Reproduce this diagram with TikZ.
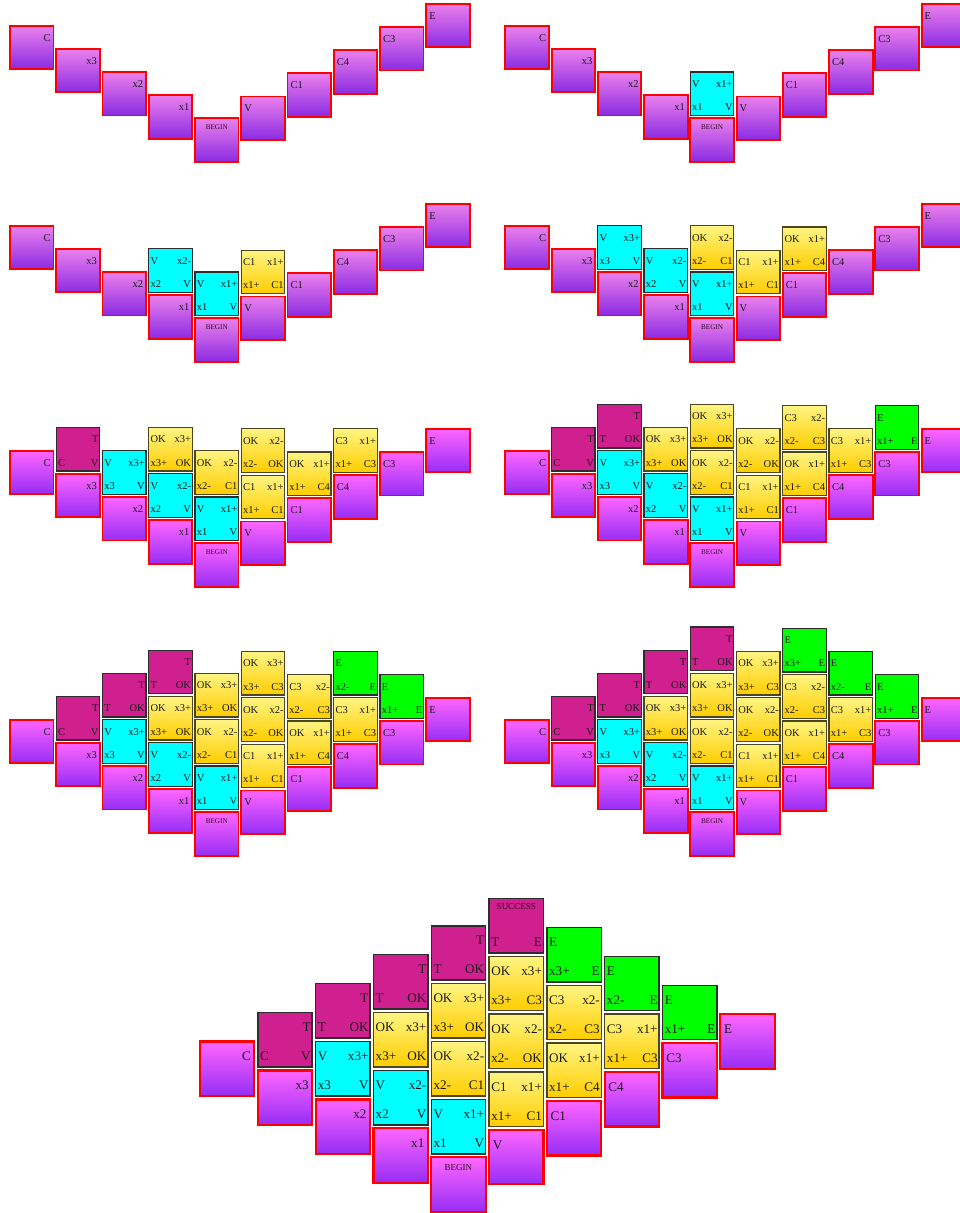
\documentclass[tikz,border=0pt]{standalone}
\usepackage{fontspec}
\setmainfont{Liberation Serif}
\definecolor{basetopA}{RGB}{236,128,236}
\definecolor{basebotA}{RGB}{138,43,226}
\definecolor{basetopB}{RGB}{255,102,255}
\definecolor{basebotB}{RGB}{150,45,245}
\colorlet{basetop}{basetopA}
\colorlet{basebot}{basebotA}
\definecolor{yeltop}{RGB}{255,244,130}
\definecolor{yelbot}{RGB}{255,205,0}
\definecolor{magT}{RGB}{208,32,144}
\definecolor{grnT}{RGB}{0,255,0}
\definecolor{cyT}{RGB}{0,255,255}
\definecolor{edgeT}{RGB}{45,45,45}
\definecolor{edgeY}{RGB}{75,70,30}
\newcommand\lwb{1.9pt}
\newcommand\lwt{1.25pt}
\tikzset{
 sq/.style={minimum size=43.5pt, inner sep=0pt, outer sep=0pt, anchor=north west},
 basebox/.style={sq, draw=red, line width=\lwb, top color=basetop, bottom color=basebot},
 cy/.style={sq, draw=edgeT, line width=\lwt, fill=cyT},
 yel/.style={sq, draw=edgeY, line width=\lwt, top color=yeltop, bottom color=yelbot},
 mag/.style={sq, draw=edgeT, line width=\lwt, fill=magT},
 grn/.style={sq, draw=edgeT, line width=\lwt, fill=grnT},
 lab/.style={inner sep=0pt, outer sep=0pt, font=\fontsize{10.5}{12}\selectfont, text=black!90},
 smalllab/.style={inner sep=0pt, outer sep=0pt, font=\fontsize{7.2}{8}\selectfont, text=black!75!magT},
}
\newcommand\mylab[5]{%
  \if\relax\detokenize{#5}\relax\else
  \node[lab,anchor=#2] (#1) at (#3,#4) {#5};\fi}
\newcommand\mytile[7]{%
  \pgfmathsetmacro\tL{10+46.25*#1}%
  \pgfmathsetmacro\tT{118.3-23.15*abs(#1-4)-46.3*#2+(#1>4)*1.3}%
  \node[#3] (\pid t#1#2) at (\tL,-\tT) {};%
  \mylab{\pid t#1#2a}{base west}{\tL+1.8}{-\tT-15.3}{#4}%
  \mylab{\pid t#1#2b}{base east}{\tL+42.3}{-\tT-15.3}{#5}%
  \mylab{\pid t#1#2c}{base west}{\tL+1.8}{-\tT-38.5}{#6}%
  \mylab{\pid t#1#2d}{base east}{\tL+42.3}{-\tT-38.5}{#7}%
}
\newcommand\mybase[2]{%
  \pgfmathsetmacro\tL{10+46.25*#1}%
  \pgfmathsetmacro\tT{118.3-23.15*abs(#1-4)+(#1>4)*1.3}%
  \node[basebox] (\pid b#1) at (\tL,-\tT) {};%
  \ifnum#1<4 \mylab{\pid b#1l}{base east}{\tL+40.7}{-\tT-15.3}{#2}\else
  \mylab{\pid b#1l}{base west}{\tL+3}{-\tT-15.3}{#2}\fi}
\newcommand\mybegin{%
  \node[basebox] (\pid b4) at (195,-118.3) {};%
  \node[smalllab,anchor=base] (\pid b4l) at (216.75,-129) {BEGIN};}
\newcommand\allbase{\mybase{0}{C}\mybase{1}{x3}\mybase{2}{x2}\mybase{3}{x1}\mybegin
  \mybase{5}{V}\mybase{6}{C1}\mybase{7}{C4}\mybase{8}{C3}\mybase{9}{E}}
\newcommand\stgA{\mytile{4}{1}{cy}{V}{x1+}{x1}{V}}
\newcommand\stgB{\stgA\mytile{3}{1}{cy}{V}{x2-}{x2}{V}\mytile{5}{1}{yel}{C1}{x1+}{x1+}{C1}}
\newcommand\stgC{\stgB\mytile{2}{1}{cy}{V}{x3+}{x3}{V}\mytile{4}{2}{yel}{OK}{x2-}{x2-}{C1}\mytile{6}{1}{yel}{OK}{x1+}{x1+}{C4}}
\newcommand\stgD{\stgC\mytile{1}{1}{mag}{}{T}{C}{V}\mytile{3}{2}{yel}{OK}{x3+}{x3+}{OK}\mytile{5}{2}{yel}{OK}{x2-}{x2-}{OK}\mytile{7}{1}{yel}{C3}{x1+}{x1+}{C3}}
\newcommand\stgE{\stgD\mytile{2}{2}{mag}{}{T}{T}{OK}\mytile{4}{3}{yel}{OK}{x3+}{x3+}{OK}\mytile{6}{2}{yel}{C3}{x2-}{x2-}{C3}\mytile{8}{1}{grn}{E}{}{x1+}{E}}
\newcommand\stgF{\stgE\mytile{3}{3}{mag}{}{T}{T}{OK}\mytile{5}{3}{yel}{OK}{x3+}{x3+}{C3}\mytile{7}{2}{grn}{E}{}{x2-}{E}}
\newcommand\stgG{\stgF\mytile{4}{4}{mag}{}{T}{T}{OK}\mytile{6}{3}{grn}{E}{}{x3+}{E}}
\begin{document}
\begin{tikzpicture}[x=1pt,y=1pt]
\useasboundingbox (0,0) rectangle (960,-1213);
\fill[white] (0,0) rectangle (960,-1213);
\begin{scope}\def\pid{a}\allbase\end{scope}
\begin{scope}[shift={(495.3,0)}]\def\pid{b}\allbase\stgA\end{scope}
\begin{scope}[shift={(0,-200)}]\def\pid{c}\allbase\stgB\end{scope}
\begin{scope}[shift={(495.3,-200)}]\def\pid{d}\allbase\stgC\end{scope}
\begin{scope}[shift={(0,-425)}]\def\pid{e}\colorlet{basetop}{basetopB}\colorlet{basebot}{basebotB}\allbase\stgD\end{scope}
\begin{scope}[shift={(495.3,-425)}]\def\pid{f}\colorlet{basetop}{basetopB}\colorlet{basebot}{basebotB}\allbase\stgE\end{scope}
\begin{scope}[shift={(0,-694)}]\def\pid{g}\colorlet{basetop}{basetopB}\colorlet{basebot}{basebotB}\allbase\stgF\end{scope}
\begin{scope}[shift={(495.3,-694)}]\def\pid{h}\colorlet{basetop}{basetopB}\colorlet{basebot}{basebotB}\allbase\stgG\end{scope}
\begin{scope}[shift={(187.5,-1009.4)},scale=1.25,transform shape]\def\pid{k}\renewcommand\lwb{2.2pt}\renewcommand\lwt{1.5pt}\colorlet{basetop}{basetopB}\colorlet{basebot}{basebotB}\allbase\stgG
  \mytile{5}{4}{mag}{}{}{T}{E}%
  \node[smalllab,anchor=base] (kS) at (\tL+21.75,-\tT-8.5) {SUCCESS};
\end{scope}
\end{tikzpicture}
\end{document}
